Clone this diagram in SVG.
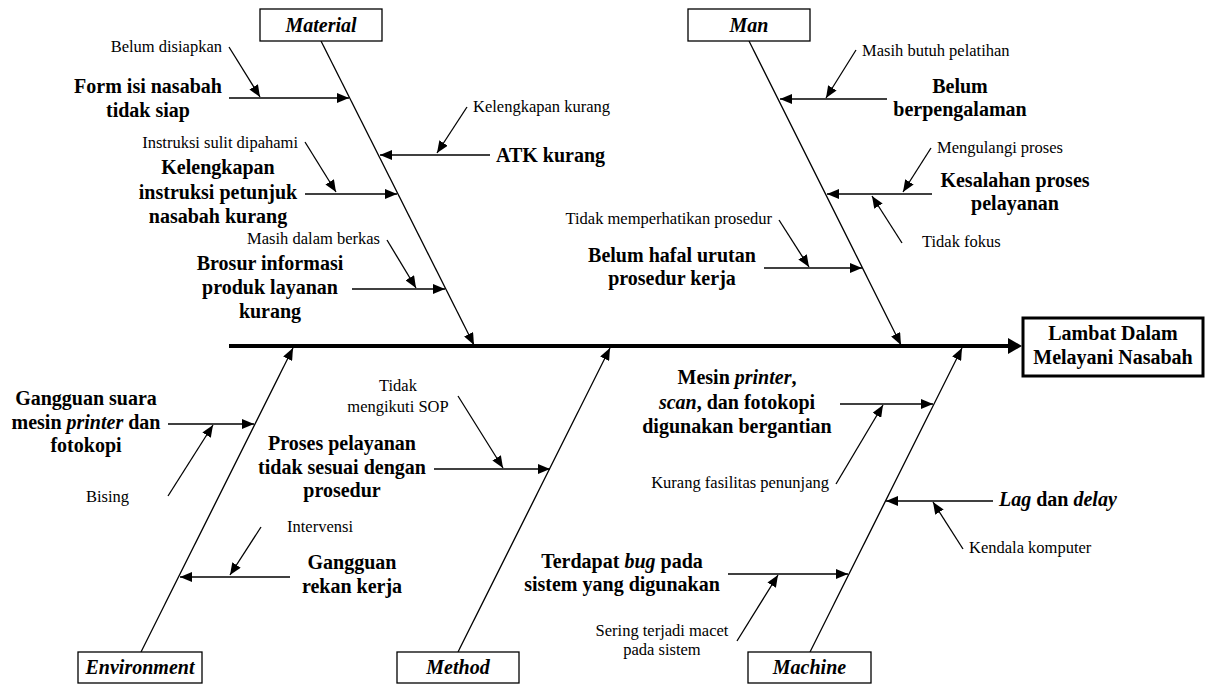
<svg xmlns="http://www.w3.org/2000/svg" width="1206" height="684" viewBox="0 0 1206 684">
<style>
.t{font-family:"Liberation Serif",Tinos,"Times New Roman",Times,"Nimbus Roman","DejaVu Serif",serif;fill:#000}
.s{font-size:16.5px}
.b{font-size:20px;font-weight:bold}
.bi{font-size:20px;font-weight:bold;font-style:italic}
.c{text-anchor:middle}
.e{text-anchor:end}
.ln{stroke:#000;stroke-width:1.3;fill:none;marker-end:url(#ah)}
.box{fill:#fff;stroke:#000;stroke-width:1.3}
</style>
<defs>
<marker id="ah" markerUnits="userSpaceOnUse" markerWidth="13" markerHeight="10" refX="12" refY="5" orient="auto"><path d="M0,0 L12,5 L0,10 z" fill="#000"/></marker>
</defs>
<rect width="1206" height="684" fill="#fff"/>

<!-- connectors: spine, category bones and cause arrows -->
<g id="connectors">
<line x1="229" y1="346" x2="1010" y2="346" stroke="#000" stroke-width="4"/>
<polygon points="1008,338 1022,346 1008,354" fill="#000"/>
<!-- category bones -->
<line class="ln" x1="321" y1="41" x2="474" y2="345"/>
<line class="ln" x1="749" y1="41" x2="901" y2="345"/>
<line class="ln" x1="141" y1="652" x2="293" y2="348"/>
<line class="ln" x1="458" y1="652" x2="610" y2="348"/>
<line class="ln" x1="810" y1="652" x2="962" y2="348"/>
<!-- material -->
<line class="ln" x1="229" y1="98" x2="349" y2="98"/>
<line class="ln" x1="229" y1="47" x2="260" y2="97"/>
<line class="ln" x1="490" y1="155" x2="380" y2="155"/>
<line class="ln" x1="467" y1="107" x2="437" y2="153"/>
<line class="ln" x1="305" y1="194" x2="397" y2="194"/>
<line class="ln" x1="305" y1="142" x2="336" y2="192"/>
<line class="ln" x1="352" y1="289" x2="445" y2="289"/>
<line class="ln" x1="387" y1="240" x2="416" y2="288"/>
<!-- man -->
<line class="ln" x1="887" y1="99" x2="780" y2="99"/>
<line class="ln" x1="856" y1="50" x2="826" y2="98"/>
<line class="ln" x1="932" y1="194" x2="827" y2="194"/>
<line class="ln" x1="931" y1="148" x2="903" y2="192"/>
<line class="ln" x1="902" y1="243" x2="872" y2="196"/>
<line class="ln" x1="764" y1="268" x2="862" y2="268"/>
<line class="ln" x1="779" y1="220" x2="809" y2="267"/>
<!-- environment -->
<line class="ln" x1="168" y1="424" x2="254" y2="424"/>
<line class="ln" x1="168" y1="496" x2="213" y2="425"/>
<line class="ln" x1="290" y1="577" x2="180" y2="577"/>
<line class="ln" x1="261" y1="527" x2="230" y2="575"/>
<!-- method -->
<line class="ln" x1="434" y1="469" x2="550" y2="469"/>
<line class="ln" x1="458" y1="396" x2="503" y2="468"/>
<!-- machine -->
<line class="ln" x1="840" y1="404" x2="933" y2="404"/>
<line class="ln" x1="836" y1="484" x2="883" y2="405"/>
<line class="ln" x1="993" y1="501" x2="886" y2="501"/>
<line class="ln" x1="963" y1="549" x2="933" y2="502"/>
<line class="ln" x1="728" y1="574" x2="848" y2="574"/>
<line class="ln" x1="737" y1="641" x2="778" y2="575"/>
</g>

<!-- effect -->
<g id="effect">
<rect x="1023" y="318" width="180" height="58" fill="#fff" stroke="#000" stroke-width="3"/>
<text class="t b c" x="1113" y="340">Lambat Dalam</text>
<text class="t b c" x="1113" y="364">Melayani Nasabah</text>
</g>

<!-- category boxes -->
<g id="cat-material"><rect class="box" x="260" y="9" width="122" height="32"/><text class="t bi c" x="321" y="32">Material</text></g>
<g id="cat-man"><rect class="box" x="688" y="9" width="122" height="32"/><text class="t bi c" x="749" y="32">Man</text></g>
<g id="cat-environment"><rect class="box" x="78" y="652" width="124" height="31"/><text class="t bi c" x="140" y="674">Environment</text></g>
<g id="cat-method"><rect class="box" x="397" y="652" width="122" height="31"/><text class="t bi c" x="458" y="674">Method</text></g>
<g id="cat-machine"><rect class="box" x="748" y="652" width="123" height="31"/><text class="t bi c" x="809.5" y="674">Machine</text></g>

<!-- material causes -->
<g id="form-isi">
<text class="t s e" x="222" y="52">Belum disiapkan</text>
<text class="t b c" x="148" y="93">Form isi nasabah</text>
<text class="t b c" x="148" y="117">tidak siap</text>
</g>
<g id="atk">
<text class="t s" x="473" y="112">Kelengkapan kurang</text>
<text class="t b" x="496" y="162">ATK kurang</text>
</g>
<g id="instruksi">
<text class="t s e" x="298" y="148">Instruksi sulit dipahami</text>
<text class="t b c" x="218" y="174">Kelengkapan</text>
<text class="t b c" x="218" y="199">instruksi petunjuk</text>
<text class="t b c" x="218" y="223">nasabah kurang</text>
</g>
<g id="brosur">
<text class="t s e" x="380" y="244">Masih dalam berkas</text>
<text class="t b c" x="270" y="270">Brosur informasi</text>
<text class="t b c" x="270" y="294">produk layanan</text>
<text class="t b c" x="270" y="318">kurang</text>
</g>

<!-- man causes -->
<g id="pengalaman">
<text class="t s" x="862" y="56">Masih butuh pelatihan</text>
<text class="t b c" x="960" y="93">Belum</text>
<text class="t b c" x="960" y="116">berpengalaman</text>
</g>
<g id="kesalahan">
<text class="t s" x="937" y="153">Mengulangi proses</text>
<text class="t b c" x="1015" y="187">Kesalahan proses</text>
<text class="t b c" x="1015" y="210">pelayanan</text>
<text class="t s" x="922" y="247">Tidak fokus</text>
</g>
<g id="hafal">
<text class="t s e" x="772" y="224">Tidak memperhatikan prosedur</text>
<text class="t b c" x="672" y="262">Belum hafal urutan</text>
<text class="t b c" x="672" y="285">prosedur kerja</text>
</g>

<!-- environment causes -->
<g id="suara">
<text class="t b c" x="86" y="405">Gangguan suara</text>
<text class="t b c" x="86" y="429">mesin <tspan font-style="italic">printer</tspan> dan</text>
<text class="t b c" x="86" y="452">fotokopi</text>
<text class="t s" x="86" y="502">Bising</text>
</g>
<g id="rekan">
<text class="t s" x="287" y="532">Intervensi</text>
<text class="t b c" x="352" y="569">Gangguan</text>
<text class="t b c" x="352" y="593">rekan kerja</text>
</g>

<!-- method causes -->
<g id="prosedur">
<text class="t s c" x="398" y="391">Tidak</text>
<text class="t s c" x="398" y="412">mengikuti SOP</text>
<text class="t b c" x="342" y="450">Proses pelayanan</text>
<text class="t b c" x="342" y="474">tidak sesuai dengan</text>
<text class="t b c" x="342" y="497">prosedur</text>
</g>

<!-- machine causes -->
<g id="mesin">
<text class="t b c" x="737" y="384">Mesin <tspan font-style="italic">printer</tspan>,</text>
<text class="t b c" x="737" y="409"><tspan font-style="italic">scan</tspan>, dan fotokopi</text>
<text class="t b c" x="737" y="433">digunakan bergantian</text>
<text class="t s e" x="829" y="488">Kurang fasilitas penunjang</text>
</g>
<g id="lag">
<text class="t b" x="999" y="506"><tspan font-style="italic">Lag</tspan> dan <tspan font-style="italic">delay</tspan></text>
<text class="t s" x="969" y="553">Kendala komputer</text>
</g>
<g id="bug">
<text class="t b c" x="622" y="568">Terdapat <tspan font-style="italic">bug</tspan> pada</text>
<text class="t b c" x="622" y="591">sistem yang digunakan</text>
<text class="t s c" x="662" y="636">Sering terjadi macet</text>
<text class="t s c" x="662" y="655">pada sistem</text>
</g>
</svg>
